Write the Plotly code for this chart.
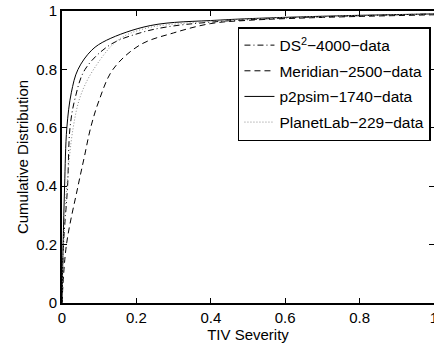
import plotly.graph_objects as go

# TIV severity (x) vs cumulative distribution (y)
ds2_x = [0, 0.004, 0.015, 0.0215, 0.035, 0.062, 0.129, 0.21, 0.28, 0.40, 0.60, 1.0]
ds2_y = [0, 0.20, 0.40, 0.60, 0.70, 0.80, 0.884, 0.925, 0.945, 0.962, 0.976, 0.99]

meridian_x = [0, 0.012, 0.043, 0.06, 0.077, 0.10, 0.137, 0.21, 0.30, 0.40, 0.50, 0.70, 1.0]
meridian_y = [0, 0.20, 0.40, 0.50, 0.60, 0.695, 0.80, 0.884, 0.925, 0.957, 0.968, 0.978, 0.987]

p2psim_x = [0, 0.003, 0.007, 0.013, 0.025, 0.043, 0.08, 0.12, 0.237, 0.425, 0.70, 1.0]
p2psim_y = [0, 0.20, 0.40, 0.60, 0.72, 0.80, 0.866, 0.90, 0.95, 0.969, 0.982, 0.99]

planetlab_x = [0, 0.004, 0.013, 0.03, 0.05, 0.085, 0.15, 0.223, 0.35, 0.60, 1.0]
planetlab_y = [0, 0.20, 0.40, 0.60, 0.71, 0.80, 0.90, 0.94, 0.96, 0.978, 0.99]

x_ticks = [0, 0.2, 0.4, 0.6, 0.8, 1]
x_tick_text = ["0", "0.2", "0.4", "0.6", "0.8", "1"]
y_ticks = [0, 0.2, 0.4, 0.6, 0.8, 1]
y_tick_text = ["0", "0.2", "0.4", "0.6", "0.8", "1"]

fig = go.Figure()
fig.add_trace(go.Scatter(x=ds2_x, y=ds2_y, mode="lines", line_shape="spline",
                         name="DS<sup>2</sup>\u22124000\u2212data", legendgroup="a",
                         line=dict(color="black", width=1, dash="6px,3px,1px,3px")))
fig.add_trace(go.Scatter(x=meridian_x, y=meridian_y, mode="lines", line_shape="spline",
                         name="Meridian\u22122500\u2212data", legendgroup="b",
                         line=dict(color="black", width=1, dash="6px,4px")))
fig.add_trace(go.Scatter(x=p2psim_x, y=p2psim_y, mode="lines", line_shape="spline",
                         name="p2psim\u22121740\u2212data", legendgroup="c",
                         line=dict(color="black", width=1)))
fig.add_trace(go.Scatter(x=planetlab_x, y=planetlab_y, mode="lines", line_shape="spline",
                         name="PlanetLab\u2212229\u2212data", legendgroup="d",
                         line=dict(color="#8a8a8a", width=1, dash="1px,2px")))

axis_common = dict(showgrid=False, zeroline=False, showline=True, linecolor="black",
                   linewidth=2, ticks="inside", ticklen=5, tickwidth=1, tickcolor="black",
                   mirror="ticks", ticklabeloverflow="allow", automargin=False,
                   tickfont=dict(size=15, color="black"))

fig.update_layout(
    width=434, height=343,
    margin=dict(l=62, r=0, t=11, b=40),
    paper_bgcolor="white", plot_bgcolor="white",
    font=dict(family="Liberation Sans, Arial, sans-serif", size=15, color="black"),
    xaxis=dict(range=[0, 1], tickvals=x_ticks, ticktext=x_tick_text,
               title=dict(text="TIV Severity", font=dict(size=15), standoff=0), **axis_common),
    yaxis=dict(range=[0, 1], tickvals=y_ticks, ticktext=y_tick_text,
               title=dict(text="Cumulative Distribution", font=dict(size=15), standoff=4), **axis_common),
    legend=dict(x=0.473, y=0.945, xanchor="left", yanchor="top",
                bgcolor="white", bordercolor="black", borderwidth=1.5,
                font=dict(size=15.5), tracegroupgap=2.5, itemwidth=30),
    showlegend=True,
)

fig.write_html("out.html", config={"displayModeBar": False},
               post_script="document.body.style.margin='0';")
